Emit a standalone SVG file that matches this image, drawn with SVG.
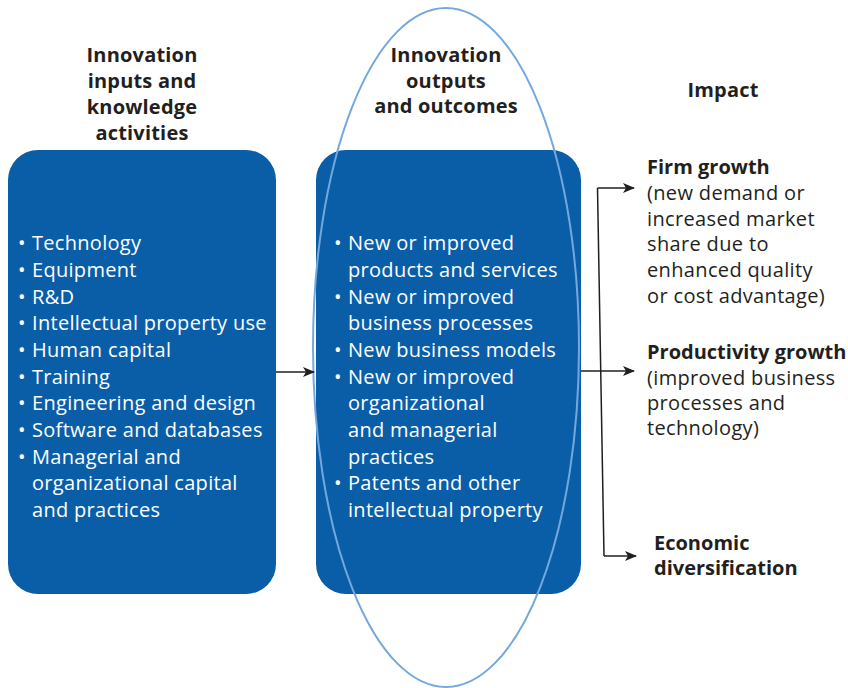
<svg xmlns="http://www.w3.org/2000/svg" width="848" height="688" viewBox="0 0 848 688">
<style>
.box{fill:#0a5ea8}
.head{font-family:"Open Sans","Liberation Sans",sans-serif;font-weight:bold;font-size:20px;letter-spacing:0.2px;fill:#231f20;text-anchor:middle}
.body{font-family:"Open Sans","Liberation Sans",sans-serif;font-size:20px;letter-spacing:0.3px;fill:#ffffff}
.rt{font-family:"Open Sans","Liberation Sans",sans-serif;font-size:20px;letter-spacing:0.35px;fill:#231f20}
.rb{font-weight:bold;letter-spacing:0px}
.conn{stroke:#231f20;stroke-width:1.5;fill:none}
</style>
<defs>
<marker id="ah" markerWidth="12" markerHeight="10" refX="11" refY="5" orient="auto" markerUnits="userSpaceOnUse">
<path d="M0,0 L12,5 L0,10 L3,5 Z" fill="#231f20"/>
</marker>
</defs>
<rect width="848" height="688" fill="#ffffff"/>
<g id="inputs">
<text class="head" x="142" y="62">Innovation</text>
<text class="head" x="142" y="88">inputs and</text>
<text class="head" x="142" y="114">knowledge</text>
<text class="head" x="142" y="140">activities</text>
<rect class="box" x="8" y="150" width="268" height="444" rx="30" ry="30"/>
<g class="body">
<text x="18" y="250">•</text><text x="32" y="250">Technology</text>
<text x="18" y="277">•</text><text x="32" y="277">Equipment</text>
<text x="18" y="303.5">•</text><text x="32" y="303.5">R&amp;D</text>
<text x="18" y="330">•</text><text x="32" y="330">Intellectual property use</text>
<text x="18" y="357">•</text><text x="32" y="357">Human capital</text>
<text x="18" y="383.5">•</text><text x="32" y="383.5">Training</text>
<text x="18" y="410">•</text><text x="32" y="410">Engineering and design</text>
<text x="18" y="437">•</text><text x="32" y="437">Software and databases</text>
<text x="18" y="463.5">•</text><text x="32" y="463.5">Managerial and</text>
<text x="32" y="490">organizational capital</text>
<text x="32" y="517">and practices</text>
</g>
</g>
<g id="outputs">
<text class="head" x="446" y="62">Innovation</text>
<text class="head" x="446" y="88">outputs</text>
<text class="head" x="446" y="113">and outcomes</text>
<rect class="box" x="316" y="150" width="265" height="444" rx="30" ry="30"/>
<ellipse cx="446" cy="347.5" rx="133" ry="339.5" fill="none" stroke="#74a8dd" stroke-width="2"/>
<g class="body">
<text x="334" y="250">•</text><text x="348" y="250">New or improved</text>
<text x="348" y="277">products and services</text>
<text x="334" y="303.5">•</text><text x="348" y="303.5">New or improved</text>
<text x="348" y="330">business processes</text>
<text x="334" y="357">•</text><text x="348" y="357">New business models</text>
<text x="334" y="383.5">•</text><text x="348" y="383.5">New or improved</text>
<text x="348" y="410">organizational</text>
<text x="348" y="437">and managerial</text>
<text x="348" y="463.5">practices</text>
<text x="334" y="490">•</text><text x="348" y="490">Patents and other</text>
<text x="348" y="517">intellectual property</text>
</g>
</g>
<g id="impact">
<text class="head" x="723" y="97">Impact</text>
</g>
<g id="firm-growth">
<text class="rt rb" x="647" y="174">Firm growth</text>
<text class="rt" x="647" y="200">(new demand or</text>
<text class="rt" x="647" y="225.5">increased market</text>
<text class="rt" x="647" y="251">share due to</text>
<text class="rt" x="647" y="277">enhanced quality</text>
<text class="rt" x="647" y="302.5">or cost advantage)</text>
</g>
<g id="productivity-growth">
<text class="rt rb" x="647" y="359">Productivity growth</text>
<text class="rt" x="647" y="385">(improved business</text>
<text class="rt" x="647" y="410">processes and</text>
<text class="rt" x="647" y="435">technology)</text>
</g>
<g id="diversification">
<text class="rt rb" x="654" y="550">Economic</text>
<text class="rt rb" x="654" y="575">diversification</text>
</g>
<g id="connectors">
<line class="conn" x1="276" y1="372" x2="314" y2="372" marker-end="url(#ah)"/>
<line class="conn" x1="581" y1="371" x2="634" y2="371" marker-end="url(#ah)"/>
<polyline class="conn" points="597.5,188 604,556"/>
<line class="conn" x1="597.5" y1="188" x2="634" y2="188" marker-end="url(#ah)"/>
<line class="conn" x1="604" y1="556" x2="636" y2="556" marker-end="url(#ah)"/>
</g>
</svg>
